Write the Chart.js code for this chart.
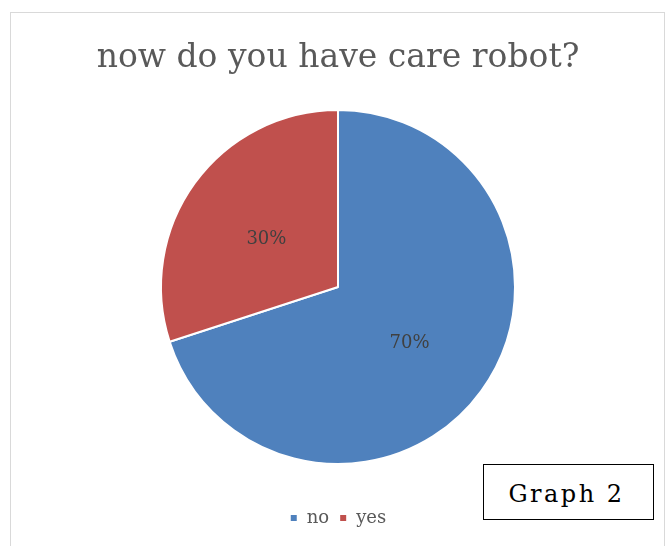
<!DOCTYPE html>
<html>
<head>
<meta charset="utf-8">
<script src="https://cdn.jsdelivr.net/npm/chart.js@4"></script>
<style>
  html, body { margin: 0; padding: 0; background: #fff; }
  #wrap { position: relative; width: 669px; height: 546px; overflow: hidden; }
  #frame { position: absolute; left: 10px; top: 12px; width: 653px; height: 560px; border: 1px solid #d9d9d9; }
  #graph { position: absolute; left: 0; top: 0; }
  #tag {
    position: absolute; left: 483px; top: 464px; width: 165px; height: 50px; padding: 4px 4px 0 0;
    border: 1px solid #000; background: #fff;
    font-family: "DejaVu Serif", serif; font-size: 24px; letter-spacing: 2.5px;
    line-height: 50px; text-align: center; color: #000;
  }
</style>
</head>
<body>
<div id="wrap">
  <div id="frame"></div>
  <canvas id="graph" width="669" height="546"></canvas>
  <div id="tag">Graph 2</div>
</div>
<script>
const answers = ['no', 'yes'];
const shares = [70, 30];
const sliceColors = ['#4f81bd', '#c0504d'];

// percentage label in the middle of each slice
const sliceLabels = {
  id: 'sliceLabels',
  afterDatasetsDraw(chart) {
    const ctx = chart.ctx;
    const total = shares.reduce((a, b) => a + b, 0);
    ctx.save();
    ctx.font = '18px "DejaVu Serif", serif';
    ctx.fillStyle = '#404040';
    ctx.textAlign = 'center';
    ctx.textBaseline = 'middle';
    chart.getDatasetMeta(0).data.forEach((arc, i) => {
      const p = arc.getCenterPoint();
      ctx.fillText(Math.round(shares[i] / total * 100) + '%', p.x, p.y + 4);
    });
    ctx.restore();
  }
};

const ctxPie = document.getElementById('graph').getContext('2d');
const pieChart = new Chart(ctxPie, {
  type: 'pie',
  data: {
    labels: answers,
    datasets: [{
      data: shares,
      backgroundColor: sliceColors,
      borderColor: '#fff',
      borderWidth: 2,
      radius: 177
    }]
  },
  options: {
    responsive: false,
    animation: false,
    layout: {
      padding: { top: 28, bottom: 9, left: 7 }
    },
    plugins: {
      title: {
        display: true,
        text: 'now do you have care robot?',
        color: '#595959',
        font: { family: '"DejaVu Serif", serif', size: 33, weight: 'normal', lineHeight: 1 },
        padding: { top: 14, bottom: 0 }
      },
      legend: {
        position: 'bottom',
        labels: {
          color: '#595959',
          font: { family: '"DejaVu Serif", serif', size: 18 },
          boxWidth: 8,
          boxHeight: 8,
          padding: 10
        }
      },
      tooltip: { enabled: false }
    }
  },
  plugins: [sliceLabels]
});
</script>
</body>
</html>
